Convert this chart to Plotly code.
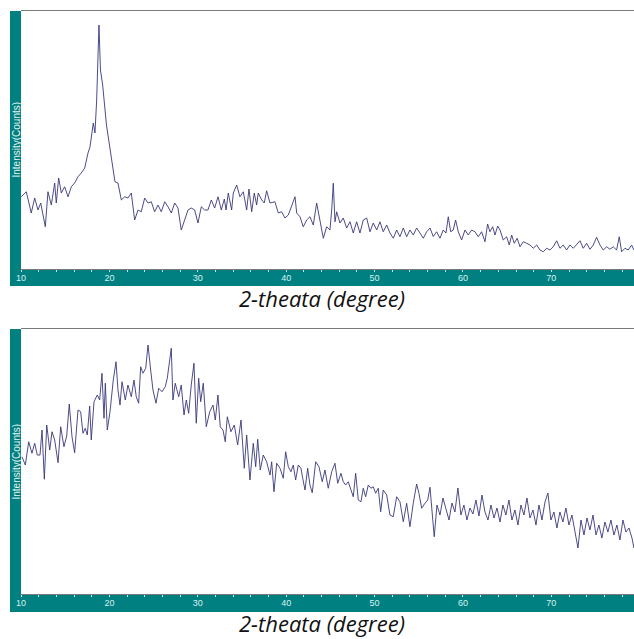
import plotly.graph_objects as go

# ---------------- data (2-theta in degrees, intensity in counts) ----------------
top_theta = [10.03, 10.60, 11.16, 11.55, 11.92, 12.23, 12.75, 13.05, 13.43, 13.81, 13.99, 14.26, 14.56, 14.94,
             15.32, 15.69, 16.07, 16.45, 16.82, 17.21, 17.58, 17.81, 18.18, 18.37, 18.56, 18.82, 18.99, 19.24,
             19.67, 19.95, 20.26, 20.63, 20.97, 21.35, 21.73, 22.10, 22.48, 22.86, 23.24, 23.61, 23.99, 24.37,
             24.74, 25.12, 25.50, 25.87, 26.26, 26.63, 27.00, 27.39, 27.76, 28.13, 28.52, 28.89, 29.26, 29.65,
             30.02, 30.40, 30.78, 31.15, 31.53, 31.91, 32.29, 32.66, 33.00, 33.20, 33.45, 33.83, 34.02, 34.40,
             34.77, 35.15, 35.53, 35.79, 36.10, 36.39, 36.66, 36.84, 37.23, 37.52, 37.79, 38.17, 38.73, 39.11,
             39.49, 39.86, 40.24, 40.62, 41.00, 41.19, 41.56, 41.93, 42.32, 42.69, 43.07, 43.45, 43.82, 44.20,
             44.58, 44.95, 45.15, 45.33, 45.52, 45.71, 46.09, 46.46, 46.84, 47.22, 47.59, 47.97, 48.35, 48.72,
             49.11, 49.48, 49.85, 50.24, 50.61, 50.98, 51.37, 51.74, 52.12, 52.50, 52.87, 53.25, 53.63, 54.00,
             54.38, 54.76, 55.14, 55.51, 55.89, 56.27, 56.64, 57.02, 57.40, 57.77, 58.08, 58.34, 58.61, 58.90,
             59.17, 59.47, 59.85, 60.23, 60.60, 60.98, 61.36, 61.73, 62.11, 62.49, 62.79, 63.05, 63.36, 63.62,
             63.93, 64.19, 64.56, 64.94, 65.24, 65.51, 65.80, 66.14, 66.45, 66.82, 67.21, 67.58, 67.95, 68.34,
             68.71, 69.08, 69.47, 69.84, 70.21, 70.60, 70.97, 71.35, 71.73, 72.10, 72.48, 72.86, 73.24, 73.61,
             73.99, 74.37, 74.74, 75.12, 75.50, 75.87, 76.26, 76.63, 77.00, 77.38, 77.68, 77.95, 78.33, 78.70,
             79.08, 79.34]
top_counts = [289, 309, 224, 284, 236, 264, 169, 309, 256, 344, 264, 364, 304, 329,
              289, 329, 344, 369, 384, 404, 464, 489, 584, 544, 676, 976, 796, 736,
              576, 516, 436, 349, 344, 276, 289, 284, 304, 196, 236, 229, 284, 264,
              269, 229, 256, 229, 269, 249, 224, 264, 244, 156, 196, 236, 244, 236,
              184, 249, 236, 236, 276, 244, 289, 236, 280, 236, 304, 236, 304, 336,
              289, 309, 236, 320, 229, 304, 256, 304, 276, 264, 313, 264, 269, 224,
              229, 204, 216, 249, 289, 224, 209, 169, 196, 209, 176, 264, 189, 123,
              169, 156, 236, 343, 189, 229, 184, 204, 164, 189, 144, 189, 144, 196,
              204, 149, 184, 156, 189, 149, 176, 144, 123, 156, 129, 164, 129, 156,
              136, 164, 144, 123, 149, 164, 130, 149, 123, 156, 144, 209, 149, 156,
              196, 149, 116, 156, 136, 156, 149, 129, 149, 109, 180, 149, 169, 136,
              172, 156, 116, 129, 96, 136, 103, 123, 89, 109, 103, 96, 83, 96,
              76, 69, 83, 76, 89, 113, 83, 96, 76, 96, 83, 96, 113, 83,
              103, 79, 96, 127, 96, 76, 89, 79, 89, 76, 129, 69, 83, 76,
              96, 76]

bot_theta = [10.11, 10.49, 10.87, 11.24, 11.55, 11.84, 12.15, 12.38, 12.64, 12.91, 13.25, 13.51, 13.81, 14.19,
             14.49, 14.86, 15.17, 15.46, 15.77, 16.07, 16.45, 16.75, 17.01, 17.27, 17.50, 17.77, 17.95, 18.26,
             18.63, 18.90, 19.16, 19.39, 19.54, 19.76, 20.07, 20.44, 20.75, 20.97, 21.20, 21.43, 21.80, 22.10,
             22.48, 22.78, 23.04, 23.31, 23.54, 23.80, 24.11, 24.37, 24.67, 24.93, 25.27, 25.58, 25.95, 26.32,
             26.55, 27.00, 27.19, 27.45, 27.84, 28.13, 28.44, 28.70, 28.97, 29.26, 29.57, 29.83, 30.10, 30.33,
             30.62, 30.96, 31.35, 31.72, 31.98, 32.28, 32.54, 32.85, 33.11, 33.34, 33.75, 34.13, 34.51, 34.89,
             35.26, 35.53, 35.90, 36.28, 36.55, 36.78, 37.07, 37.41, 37.79, 38.17, 38.36, 38.62, 38.93, 39.30,
             39.67, 39.94, 40.24, 40.54, 40.80, 41.07, 41.37, 41.67, 41.87, 42.13, 42.43, 42.69, 42.95, 43.34,
             43.71, 44.08, 44.39, 44.76, 45.15, 45.52, 45.83, 46.20, 46.46, 46.73, 47.02, 47.33, 47.59, 47.86,
             48.16, 48.46, 48.72, 48.99, 49.29, 49.59, 49.85, 50.12, 50.42, 50.69, 50.98, 51.37, 51.74, 52.11,
             52.50, 52.87, 53.25, 53.63, 54.00, 54.38, 54.76, 55.02, 55.33, 55.70, 56.01, 56.27, 56.53, 56.75,
             57.06, 57.40, 57.74, 58.08, 58.42, 58.76, 59.09, 59.43, 59.77, 60.11, 60.45, 60.79, 61.13, 61.47,
             61.81, 62.15, 62.49, 62.83, 63.17, 63.51, 63.85, 64.19, 64.52, 64.86, 65.20, 65.54, 65.88, 66.22,
             66.56, 66.90, 67.24, 67.58, 67.92, 68.26, 68.60, 68.94, 69.28, 69.61, 69.95, 70.29, 70.63, 70.97,
             71.31, 71.65, 71.99, 72.33, 72.67, 73.01, 73.35, 73.69, 74.03, 74.37, 74.71, 75.05, 75.38, 75.72,
             76.06, 76.40, 76.74, 77.08, 77.42, 77.76, 78.10, 78.44, 78.78, 79.12, 79.34]
bot_counts = [549, 516, 609, 563, 603, 556, 556, 656, 459, 676, 576, 649, 616, 525,
              669, 589, 632, 760, 629, 565, 736, 729, 643, 663, 636, 752, 616, 769,
              796, 776, 883, 703, 843, 656, 729, 856, 929, 816, 756, 849, 776, 836,
              789, 856, 789, 763, 909, 883, 903, 996, 896, 816, 763, 823, 809, 829,
              863, 983, 776, 843, 789, 836, 716, 776, 723, 836, 923, 683, 863, 769,
              843, 669, 729, 756, 696, 796, 669, 656, 609, 709, 649, 676, 596, 696,
              503, 636, 456, 603, 509, 619, 496, 556, 529, 476, 529, 409, 523, 503,
              463, 569, 509, 489, 516, 456, 516, 503, 463, 416, 503, 436, 405, 529,
              509, 449, 496, 423, 489, 523, 443, 483, 449, 436, 449, 416, 389, 483,
              376, 369, 423, 389, 436, 423, 429, 403, 423, 329, 416, 396, 316, 309,
              389, 369, 289, 363, 269, 363, 440, 403, 343, 363, 376, 427, 323, 229,
              356, 316, 384, 336, 296, 364, 328, 424, 316, 356, 296, 344, 320, 376,
              312, 396, 328, 296, 356, 304, 344, 288, 356, 316, 376, 296, 336, 276,
              356, 316, 384, 304, 336, 276, 356, 296, 368, 404, 296, 328, 264, 328,
              288, 344, 276, 316, 256, 184, 296, 236, 304, 256, 316, 236, 276, 224,
              288, 248, 296, 236, 276, 216, 296, 248, 264, 224, 184]

x_ticks = [10, 20, 30, 40, 50, 60, 70]
x_label = "2-theata (degree)"
y_label = "Intensity(Counts)"

# ---------------- layout helpers ----------------
W, H = 634, 639
TEAL = "#008080"
LINE = "#38387a"


def px(x):
    return x / W


def py(y):
    return 1 - y / H


fig = go.Figure()
fig.add_trace(go.Scatter(x=top_theta, y=top_counts, mode="lines",
                         line=dict(color=LINE, width=0.9), xaxis="x", yaxis="y",
                         hoverinfo="skip", showlegend=False))
fig.add_trace(go.Scatter(x=bot_theta, y=bot_counts, mode="lines",
                         line=dict(color=LINE, width=0.9), xaxis="x2", yaxis="y2",
                         hoverinfo="skip", showlegend=False))

xcommon = dict(range=[10, 79.35], tickvals=x_ticks, ticktext=[str(t) for t in x_ticks],
               ticks="outside", ticklen=2, tickwidth=1, tickcolor="#cfe8e8",
               ticklabelstandoff=-2,
               minor=dict(dtick=2, tick0=10, ticks="outside", ticklen=2, tickwidth=1, tickcolor="#cfe8e8"),
               tickfont=dict(family="Liberation Sans Narrow, Arial Narrow, sans-serif", size=9, color="#d6f2f2"),
               showgrid=False, zeroline=False, showline=True, mirror=True,
               linecolor="#7a7a7a", linewidth=1, fixedrange=True, automargin=False)
ycommon = dict(showticklabels=False, ticks="", showgrid=False, zeroline=False,
               showline=False, fixedrange=True, automargin=False)

fig.update_layout(
    width=W, height=H,
    autosize=False,
    margin=dict(l=0, r=0, t=0, b=0, pad=0),
    paper_bgcolor="white", plot_bgcolor="white",
    showlegend=False,
    xaxis=dict(domain=[px(21), 1], anchor="y", **xcommon),
    yaxis=dict(domain=[py(269), py(11)], anchor="x", range=[0, 1032], **ycommon),
    xaxis2=dict(domain=[px(21), 1], anchor="y2", **xcommon),
    yaxis2=dict(domain=[py(594), py(329)], anchor="x2", range=[0, 1060], **ycommon),
    shapes=[
        dict(type="rect", xref="paper", yref="paper", x0=px(10), x1=px(21), y0=py(286), y1=py(11),
             fillcolor=TEAL, line=dict(width=0), layer="below"),
        dict(type="rect", xref="paper", yref="paper", x0=px(10), x1=1, y0=py(286), y1=py(269),
             fillcolor=TEAL, line=dict(width=0), layer="below"),
        dict(type="rect", xref="paper", yref="paper", x0=px(10), x1=px(21), y0=py(612), y1=py(329),
             fillcolor=TEAL, line=dict(width=0), layer="below"),
        dict(type="rect", xref="paper", yref="paper", x0=px(10), x1=1, y0=py(612), y1=py(594),
             fillcolor=TEAL, line=dict(width=0), layer="below"),
    ],
    annotations=[
        dict(text=y_label, xref="paper", yref="paper", x=px(15.5), y=py(140), textangle=-90,
             showarrow=False, xanchor="center", yanchor="middle",
             font=dict(family="Liberation Sans, Arial, sans-serif", size=10, color="#e4f4f4")),
        dict(text=y_label, xref="paper", yref="paper", x=px(15.5), y=py(462), textangle=-90,
             showarrow=False, xanchor="center", yanchor="middle",
             font=dict(family="Liberation Sans, Arial, sans-serif", size=10, color="#e4f4f4")),
        dict(text=x_label, xref="paper", yref="paper", x=px(322), y=py(314),
             showarrow=False, xanchor="center", yanchor="bottom", borderpad=0,
             font=dict(family="Open Sans, sans-serif", size=22, color="#111111", style="italic")),
        dict(text=x_label, xref="paper", yref="paper", x=px(322), y=py(639),
             showarrow=False, xanchor="center", yanchor="bottom", borderpad=0,
             font=dict(family="Open Sans, sans-serif", size=22, color="#111111", style="italic")),
    ],
)

fig.write_html("out.html", config={"displayModeBar": False},
               post_script="document.body.style.margin='0';document.body.style.overflow='hidden';")
